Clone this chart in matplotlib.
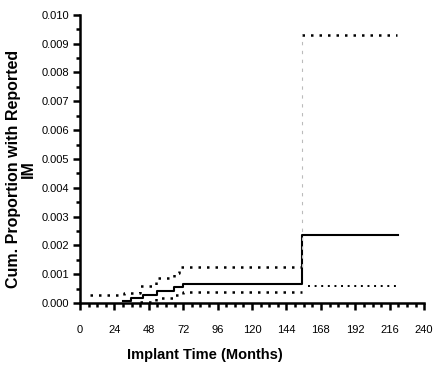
import matplotlib
matplotlib.use('Agg')
import matplotlib.pyplot as plt
from matplotlib.ticker import MultipleLocator, FormatStrFormatter

plt.rcParams['font.family'] = ['Liberation Sans Narrow', 'Liberation Sans', 'DejaVu Sans']

# step curves: (time in months, level from that time onward)
est_t = [30, 35.7, 43.8, 53.5, 65.7, 71.5, 155, 222]
est_v = [0.00007, 0.00016, 0.00027, 0.00042, 0.00057, 0.00065, 0.00237, 0.00237]

upper_t = [7, 31, 41.5, 53, 65.7, 69, 155]
upper_v = [0.00028, 0.00036, 0.0006, 0.00086, 0.00103, 0.00124, 0.00124]
upper2_t = [155, 221]
upper2_v = [0.0093, 0.0093]

lower_t = [41.5, 53, 65.7, 71.5, 155]
lower_v = [0.00005, 0.00016, 0.00028, 0.00037, 0.00037]
lower2_t = [159, 221]
lower2_v = [0.0006, 0.0006]

x_ticks = [0, 24, 48, 72, 96, 120, 144, 168, 192, 216, 240]

fig = plt.figure(figsize=(4.35, 3.71), dpi=100)
ax = fig.add_axes([0.184, 0.183, 0.791, 0.777])

dot = (0, (1, 2.4))
ax.step(est_t, est_v, where='post', color='black', lw=1.5)
ax.step(upper_t, upper_v, where='post', color='black', lw=1.8, linestyle=dot)
ax.step(upper2_t, upper2_v, where='post', color='black', lw=1.8, linestyle=dot)
ax.step(lower_t, lower_v, where='post', color='black', lw=1.8, linestyle=dot)
ax.step(lower2_t, lower2_v, where='post', color='black', lw=1.4, linestyle=dot)
ax.plot([155, 155], [upper_v[-1], upper2_v[0]], color='#bbbbbb', lw=0.8, linestyle=(0, (3, 5)))

ax.set_xlim(0, 240)
ax.set_ylim(0, 0.010)
ax.set_xticks(x_ticks)
ax.xaxis.set_minor_locator(MultipleLocator(6))
ax.yaxis.set_major_locator(MultipleLocator(0.001))
ax.yaxis.set_minor_locator(MultipleLocator(0.0005))
ax.yaxis.set_major_formatter(FormatStrFormatter('%.3f'))

for s in ['top', 'right']:
    ax.spines[s].set_visible(False)
for s in ['left', 'bottom']:
    ax.spines[s].set_linewidth(1.8)
ax.tick_params(which='major', direction='out', length=5, width=1.8, labelsize=8)
ax.tick_params(which='minor', direction='out', length=3, width=1.8)
ax.tick_params(axis='x', which='major', pad=11)
ax.tick_params(axis='y', which='major', pad=3)

fig.text(0.471, 0.042, 'Implant Time (Months)', ha='center', va='center',
         fontsize=10.5, fontweight='bold')
fig.text(0.048, 0.545, 'Cum. Proportion with Reported\nIM', ha='center', va='center',
         rotation=90, fontsize=11.5, fontweight='bold', linespacing=1.0)

fig.savefig('out.png', dpi=100)
